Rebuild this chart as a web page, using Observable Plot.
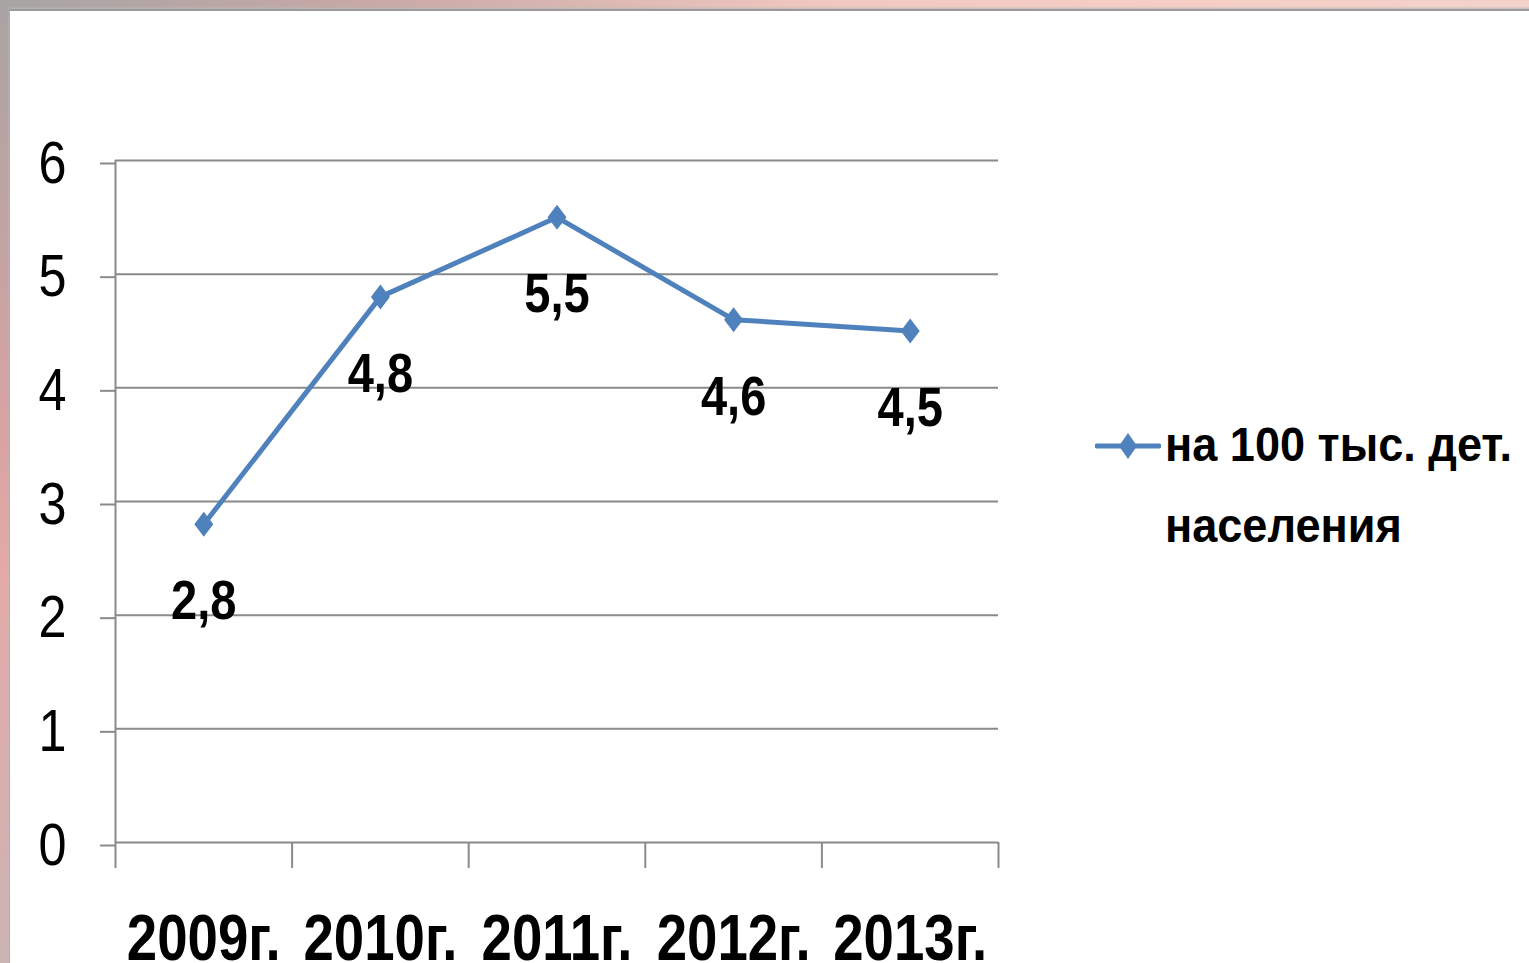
<!DOCTYPE html>
<html>
<head>
<meta charset="utf-8">
<script src="https://cdn.jsdelivr.net/npm/d3@7"></script>
<script src="https://cdn.jsdelivr.net/npm/@observablehq/plot@0.6"></script>
<style>
  html, body { margin: 0; padding: 0; }
  #page { position: relative; width: 1529px; height: 963px; overflow: hidden;
          background: linear-gradient(180deg, #a9a3a3 0%, #d9a3a3 45%, #e3aaa9 60%, #cdb3b3 100%);
          font-family: "Liberation Sans", Arial, sans-serif; }
  #topstrip { position: absolute; left: 0; top: 0; width: 1529px; height: 9px;
          background: linear-gradient(90deg, #a7a4a4 0%, #c9a9a6 25%, #f1c9c0 55%, #f5cfc6 80%, #f3d2ca 100%); }
  #panel { position: absolute; left: 9px; top: 9px; width: 1540px; height: 980px; background: #fff;
          border-top: 2px solid #9a9a9a; border-left: 1px solid #b0b0b0;
          box-shadow: 0 -1px 2px #bbb; }
  #chart { position: absolute; left: 0; top: 0; }
  #swatch { position: absolute; left: 1095px; top: 431px; }
  #legendtext { position: absolute; left: 1165px; top: 404px; font-size: 49px; font-weight: bold;
          line-height: 81px; color: #000; white-space: nowrap;
          transform: scaleX(0.92); transform-origin: 0 0; }
</style>
</head>
<body>
<div id="page">
  <div id="topstrip"></div>
  <div id="panel"></div>
  <div id="chart"></div>
  <svg id="swatch" width="66" height="30"></svg>
  <div id="legendtext"></div>
</div>
<script>
// ---- data ----
const years = ["2009г.", "2010г.", "2011г.", "2012г.", "2013г."];
const values = [2.8, 4.8, 5.5, 4.6, 4.5];
const yTicks = [0, 1, 2, 3, 4, 5, 6];
const seriesName = ["на 100 тыс. дет.", "населения"];

const lineColor = "#4F81BD";
const gridColor = "#8a8a8a";
const font = '"Liberation Sans", Arial, sans-serif';

const data = years.map((y, i) => ({ i: i + 0.5, year: y, value: values[i], label: String(values[i]).replace(".", ",") }));
const boundaries = d3.range(0, years.length + 1);

// tall diamond marker like Excel
const diamond = {
  draw(ctx) {
    const w = 9.5, h = 12.5;
    ctx.moveTo(0, -h); ctx.lineTo(w, 0); ctx.lineTo(0, h); ctx.lineTo(-w, 0); ctx.closePath();
  }
};

const chart = Plot.plot({
  width: 1000,
  height: 963,
  marginLeft: 115,
  marginRight: 2,
  marginTop: 160,
  marginBottom: 121,
  style: { background: "transparent", fontFamily: font, color: "#000" },
  x: { type: "linear", domain: [0, years.length], label: null },
  y: { domain: [0, 6], label: null },
  marks: [
    Plot.gridY(yTicks, { stroke: gridColor, strokeOpacity: 1, strokeWidth: 2 }),
    Plot.axisY(yTicks, { tickSize: 15, tickPadding: 34, fontSize: 60, stroke: gridColor, strokeWidth: 2, tickFormat: d => String(d), dy: 3, label: null }),
    Plot.ruleX([0], { y1: 0, y2: 6, stroke: gridColor, strokeWidth: 2 }),
    Plot.axisX(boundaries, { tickSize: 26, tickFormat: () => "", stroke: gridColor, strokeWidth: 2, label: null }),
    Plot.axisX(data.map(d => d.i), { tickSize: 0, tickPadding: 71, fontSize: 65, fontWeight: "bold", tickFormat: d => years[Math.floor(d)], label: null }),
    Plot.line(data, { x: "i", y: "value", stroke: lineColor, strokeWidth: 5 }),
    Plot.dot(data, { x: "i", y: "value", symbol: diamond, fill: lineColor, stroke: "none" }),
    Plot.text(data, { x: "i", y: "value", text: "label", dy: 77, fontSize: 56, fontWeight: "bold", fill: "#000", lineAnchor: "middle" })
  ]
});
document.getElementById("chart").appendChild(chart);

// narrow the glyphs horizontally (the reference uses a tall, condensed face)
function squeeze(selector, f) {
  chart.querySelectorAll(selector).forEach(t => {
    const len = t.getComputedTextLength();
    if (len > 0) {
      t.setAttribute("textLength", (len * f).toFixed(1));
      t.setAttribute("lengthAdjust", "spacingAndGlyphs");
    }
  });
}
squeeze('g[aria-label="y-axis tick label"] text', 0.84);
squeeze('g[aria-label="x-axis tick label"] text', 0.84);
squeeze('g[aria-label="text"] text', 0.84);

// legend
const sw = d3.select("#swatch");
sw.append("line").attr("x1", 2).attr("x2", 64).attr("y1", 15).attr("y2", 15)
  .attr("stroke", lineColor).attr("stroke-width", 5).attr("stroke-linecap", "round");
sw.append("path").attr("d", "M33,2 L42,15 L33,28 L24,15 Z").attr("fill", lineColor);
document.getElementById("legendtext").innerHTML = seriesName.join("<br>");
</script>
</body>
</html>
